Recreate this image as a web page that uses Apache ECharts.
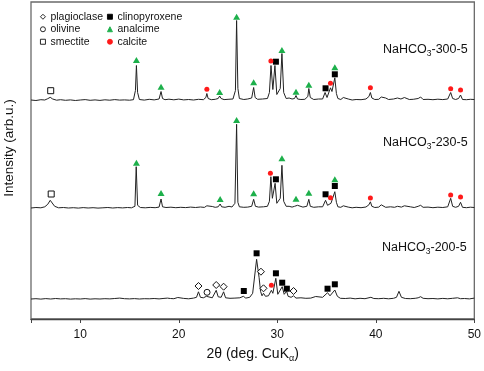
<!DOCTYPE html>
<html>
<head>
<meta charset="utf-8">
<script src="https://cdn.jsdelivr.net/npm/echarts@6/dist/echarts.min.js"></script>
<style>
html,body{margin:0;padding:0;background:#fff;}
#main{width:484px;height:371px;}
</style>
</head>
<body>
<div id="main"></div>
<script>
// 各样品基线位置 (arb.u.)
var sampleNames = ['300', '230', '200'];
var baselines = [218.5, 110.7, 19.7];

// XRD 曲线 [2θ, 相对基线强度]
var trace300 = [[5.0,0.5],[5.5,0],[6.0,0.8],[6.4,0.5],[6.7,1.8],[6.95,3.2],[7.2,1.5],[7.6,0.3],[8.0,0.8],[8.5,0.2],[9.0,0.6],[9.5,0],[10.0,0.5],[10.5,0.9],[11.0,0.2],[11.5,0.6],[12.0,0.1],[12.5,0.7],[13.0,0.3],[13.5,0.9],[14.0,0.4],[14.5,0.6],[15.0,0.3],[15.4,0.8],[15.6,10],[15.7,35],[15.82,8],[16.0,1],[16.5,0.4],[17.0,1.2],[17.5,0.6],[18.0,1.5],[18.2,9],[18.35,2],[18.6,0.8],[19.0,1.3],[19.5,0.7],[20.0,1.4],[20.5,0.6],[21.0,1.0],[21.5,0.5],[22.0,1.2],[22.5,0.8],[22.75,3],[22.85,7],[22.98,2],[23.3,0.8],[23.7,1.2],[24.0,2],[24.15,4.5],[24.3,2],[24.6,0.9],[25.0,1.2],[25.5,1.5],[25.75,10],[25.87,80],[26.0,12],[26.15,2],[26.35,3],[26.6,1],[27.0,1.5],[27.4,2.5],[27.6,13],[27.75,3],[28.0,1.2],[28.5,1.5],[29.0,2],[29.2,8],[29.36,35],[29.55,11],[29.76,35],[29.95,6],[30.1,4],[30.3,12],[30.47,47],[30.65,8],[30.9,2],[31.2,2.5],[31.5,1.5],[31.75,2],[31.9,5],[32.05,1.5],[32.4,1],[32.8,1.2],[33.1,4],[33.2,12],[33.35,3],[33.7,1],[34.2,1.5],[34.6,1.5],[34.85,8],[35.05,3],[35.25,5],[35.4,12.7],[35.55,9],[35.84,22.7],[36.0,7],[36.15,2],[36.3,3],[36.45,1],[36.7,3],[36.85,1],[37.2,1.5],[37.6,0.5],[38.0,1],[38.5,0.8],[39.0,1.5],[39.3,4],[39.45,8],[39.6,2.5],[39.9,1],[40.3,1.2],[40.55,3.5],[40.7,2],[41.0,2.5],[41.3,1],[41.8,1.5],[42.2,2.5],[42.35,4.5],[42.55,1.5],[42.9,3],[43.1,1.5],[43.4,1],[43.8,1.2],[44.3,2],[44.55,3.5],[44.8,1],[45.3,1.2],[45.8,0.8],[46.3,1.3],[46.8,0.9],[47.3,1.5],[47.6,8],[47.8,2],[48.1,1],[48.4,2],[48.6,5.5],[48.8,1],[49.2,0.8],[49.6,1.2],[50,1]];

var trace230 = [[5.0,0.3],[5.5,0.8],[6.0,0.5],[6.4,1.5],[6.7,4],[6.95,8],[7.15,6],[7.4,2],[7.8,0.5],[8.3,0.8],[8.8,0.3],[9.3,0.6],[9.8,0.2],[10.3,0.7],[10.8,0.3],[11.3,0.6],[11.8,0.2],[12.3,0.5],[12.8,0.8],[13.3,0.3],[13.8,0.7],[14.3,0.4],[14.8,0.8],[15.2,0.5],[15.55,2],[15.68,41.6],[15.82,3],[16.1,0.8],[16.6,0.5],[17.1,0.9],[17.6,0.6],[18.0,1.2],[18.2,9.3],[18.35,1.5],[18.7,0.8],[19.2,1.1],[19.7,0.6],[20.2,1.0],[20.7,0.7],[21.2,1.2],[21.7,0.8],[22.2,1.3],[22.6,0.9],[22.85,2.5],[23.0,1.2],[23.4,1.8],[23.7,1],[24.0,1.5],[24.2,4.3],[24.35,1.5],[24.7,1],[25.1,2],[25.4,1.3],[25.7,5],[25.87,84],[26.0,6],[26.15,1.5],[26.35,2.5],[26.6,1],[27.0,1.2],[27.4,2],[27.6,9],[27.78,2],[28.1,1.2],[28.6,1.5],[29.0,2],[29.2,7],[29.35,31.6],[29.5,10],[29.58,10],[29.78,25],[29.95,5],[30.1,3],[30.3,10],[30.47,43],[30.65,7],[30.9,2],[31.2,2],[31.5,1.2],[31.75,2],[31.9,4],[32.05,3],[32.2,1],[32.6,1.2],[33.0,2],[33.2,9],[33.35,2],[33.7,1],[34.2,1.5],[34.6,1.5],[34.9,8],[35.1,3],[35.3,3],[35.45,5],[35.6,4],[35.84,16.6],[36.0,6],[36.15,1.5],[36.3,3],[36.45,1],[36.7,2.5],[36.85,0.8],[37.2,1.2],[37.6,0.5],[38.0,1],[38.5,0.6],[39.0,1.3],[39.3,3.5],[39.45,6.5],[39.6,2],[39.9,0.8],[40.3,1.2],[40.55,3.5],[40.7,1.5],[41.0,1],[41.5,1.5],[41.9,1],[42.2,2],[42.4,3],[42.6,1.2],[42.9,2.5],[43.1,1],[43.5,1.5],[43.9,0.8],[44.3,2],[44.55,3],[44.8,1],[45.3,1.2],[45.8,0.6],[46.3,1.1],[46.8,0.8],[47.3,1.5],[47.6,10],[47.8,2],[48.1,1],[48.4,2],[48.6,6],[48.8,1],[49.2,0.6],[49.6,1.1],[50,0.8]];

var trace200 = [[5.0,0.3],[5.5,0.6],[6.0,0.2],[6.5,0.7],[7.0,0.3],[7.5,0.8],[8.0,0.4],[8.5,0.6],[9.0,0.2],[9.5,0.5],[10.0,0.3],[10.5,0.7],[11.0,0.2],[11.5,0.5],[12.0,0.3],[12.5,0.6],[13.0,0.4],[13.5,0.8],[14.0,1.2],[14.5,0.6],[15.0,0.4],[15.5,0.7],[16.0,0.3],[16.5,0.6],[17.0,0.5],[17.5,0.8],[18.0,0.4],[18.5,0.9],[18.85,1.2],[19.0,2.5],[19.15,0.8],[19.5,0.6],[19.9,1.8],[20.1,0.7],[20.5,0.9],[21.0,0.5],[21.5,1.2],[21.8,2],[22.0,7.5],[22.2,2],[22.5,1.5],[22.8,3],[23.0,1.5],[23.4,1.5],[23.8,9],[24.0,2.5],[24.3,2],[24.55,7.5],[24.75,1.5],[25.2,1],[25.7,1.2],[26.2,1.5],[26.55,3],[26.8,1.2],[27.2,2],[27.5,6],[27.9,40],[28.15,22],[28.3,8],[28.45,3.5],[28.6,6],[28.8,3],[29.1,3.5],[29.4,9],[29.55,6],[29.85,21],[30.05,5],[30.25,6],[30.5,12.6],[30.7,5],[30.95,8],[31.1,3],[31.4,2],[31.65,3.5],[31.9,1.2],[32.4,1.5],[32.9,1],[33.4,1.2],[33.9,2.8],[34.1,0.8],[34.6,2],[35.1,6.6],[35.35,3.5],[35.84,9.3],[36.1,3],[36.4,1],[36.9,0.8],[37.4,1.2],[37.9,0.5],[38.4,1],[38.9,0.6],[39.5,2],[39.8,0.8],[40.3,0.6],[40.8,1],[41.3,0.5],[41.8,1],[42.1,2],[42.35,8],[42.6,2],[43.0,0.8],[43.5,0.6],[44.0,1],[44.3,1.5],[44.55,2.6],[44.8,1],[45.3,0.6],[45.8,0.8],[46.3,0.4],[46.8,0.9],[47.3,0.5],[47.8,1],[48.3,1.5],[48.6,0.6],[49.0,0.8],[49.5,0.4],[50,1.2]];

// 物相标记 [样品, 2θ, 相对基线高度]
var plagioclase = [['200',22.0,13.3],['200',23.8,14.3],['200',24.55,12.6],['200',28.34,27.6],['200',28.6,11],['200',31.65,8.3]];
var olivine = [['200',22.87,7]];
var smectite = [['300',7.0,9.8],['230',7.05,14.3]];
var clinopyroxene = [['300',29.86,38.8],['300',34.9,12.2],['300',35.84,26.2],
	['230',29.86,29],['230',34.9,14],['230',35.84,22.3],
	['200',26.6,8.3],['200',27.9,46],['200',29.86,26],['200',30.5,16.6],['200',30.97,10.6],['200',35.1,10.6],['200',35.84,15]];
var analcime = [['300',15.7,40.5],['300',18.2,13.8],['300',24.15,8.5],['300',25.87,83.8],['300',27.6,18.2],['300',30.47,50.5],['300',31.9,8.8],['300',33.2,15.8],['300',35.84,33.2],
	['230',15.7,45.6],['230',18.2,15.3],['230',24.2,9.3],['230',25.87,88.3],['230',27.6,15],['230',30.47,50],['230',31.9,9.6],['230',33.2,15.6],['230',35.84,29]];
var calcite = [['300',22.85,11.2],['300',29.35,39.5],['300',35.4,17.2],['300',39.45,12.8],['300',47.6,11.8],['300',48.6,10.5],
	['230',29.3,35],['230',35.4,10.6],['230',39.45,10.3],['230',47.6,13.3],['230',48.6,11.3],
	['200',29.4,14]];

var font = 'Liberation Sans, Arial, sans-serif';

function shiftTrace(trace, base){
	var out = [];
	for (var i = 0; i < trace.length; i++) {
		out.push([trace[i][0], trace[i][1] + base]);
	}
	return out;
}
function markerData(list){
	var out = [];
	for (var i = 0; i < list.length; i++) {
		var base = baselines[sampleNames.indexOf(list[i][0])];
		out.push([list[i][1], list[i][2] + base]);
	}
	return out;
}
function lineSeries(name, trace, base){
	return {
		name: name, type: 'line', data: shiftTrace(trace, base),
		showSymbol: false, symbol: 'none', silent: true, z: 2,
		lineStyle: {color: '#222', width: 1}
	};
}
function markerSeries(name, list, symbol, size, fill, border){
	return {
		name: name, type: 'scatter', data: markerData(list), z: 5,
		symbol: symbol, symbolSize: size,
		itemStyle: {color: fill, borderColor: border || fill, borderWidth: border ? 1 : 0, opacity: 1}
	};
}
function sampleLabel(num, x, y){
	return {
		type: 'text', x: x, y: y,
		style: {
			text: '{a|NaHCO}{b|3}{a|-' + num + '-5}',
			verticalAlign: 'middle',
			rich: {
				a: {fontSize: 12.5, fontFamily: font, fill: '#111', color: '#111'},
				b: {fontSize: 8.5, fontFamily: font, fill: '#111', color: '#111', padding: [7, 0, 0, 0]}
			}
		}
	};
}
function legendBox(names, left){
	return {
		data: names,
		orient: 'vertical', left: left, top: 11, padding: 0, itemGap: 1,
		itemWidth: 5, itemHeight: 5,
		itemStyle: {borderWidth: 0.9},
		textStyle: {fontSize: 10.5, fontFamily: font, color: '#111', lineHeight: 11.5}
	};
}

var myChart = echarts.init(document.getElementById('main'));

var option = {
	animation: false,
	grid: {left: 31, right: 9, top: 2, bottom: 52, show: true, borderColor: '#6a6a6a', borderWidth: 1.3, backgroundColor: 'transparent'},
	legend: [
		legendBox(['plagioclase', 'olivine', 'smectite'], 40),
		legendBox(['clinopyroxene', 'analcime', 'calcite'], 107)
	],
	xAxis: {
		type: 'value', min: 5, max: 50, splitNumber: 5,
		name: '{a|2θ (deg. CuK}{b|α}{a|)}',
		nameLocation: 'middle', nameGap: 27,
		nameTextStyle: {
			rich: {
				a: {fontSize: 14, fontFamily: font, color: '#111'},
				b: {fontSize: 9, fontFamily: font, color: '#111', padding: [8, 0, 0, 0]}
			}
		},
		axisLine: {lineStyle: {color: '#444', width: 1.3}},
		axisTick: {show: true, inside: false, length: 4, lineStyle: {color: '#444'}},
		axisLabel: {
			margin: 10, fontSize: 12, fontFamily: font, color: '#111',
			formatter: function(v){ return v % 10 === 0 ? v : ''; }
		},
		splitLine: {show: false}
	},
	yAxis: {
		type: 'value', min: 0, max: 317,
		axisLine: {show: false}, axisTick: {show: false},
		axisLabel: {show: false}, splitLine: {show: false}
	},
	graphic: [
		{
			type: 'text', x: 9, y: 148, rotation: Math.PI / 2,
			style: {text: 'Intensity (arb.u.)', fontSize: 13.5, fontFamily: font, fill: '#111', align: 'center', verticalAlign: 'middle'}
		},
		sampleLabel('300', 383, 50),
		sampleLabel('230', 383, 143),
		sampleLabel('200', 382, 248)
	],
	series: [
		lineSeries('NaHCO3-300-5', trace300, baselines[0]),
		lineSeries('NaHCO3-230-5', trace230, baselines[1]),
		lineSeries('NaHCO3-200-5', trace200, baselines[2]),
		markerSeries('plagioclase', plagioclase, 'diamond', 7, '#fff', '#111'),
		markerSeries('olivine', olivine, 'circle', 6, '#fff', '#111'),
		markerSeries('smectite', smectite, 'rect', 6, '#fff', '#111'),
		markerSeries('clinopyroxene', clinopyroxene, 'rect', 6, '#000'),
		markerSeries('analcime', analcime, 'triangle', [7, 6], '#1db04b'),
		markerSeries('calcite', calcite, 'circle', 5, '#ff1a1a')
	]
};

myChart.setOption(option);
</script>
</body>
</html>
